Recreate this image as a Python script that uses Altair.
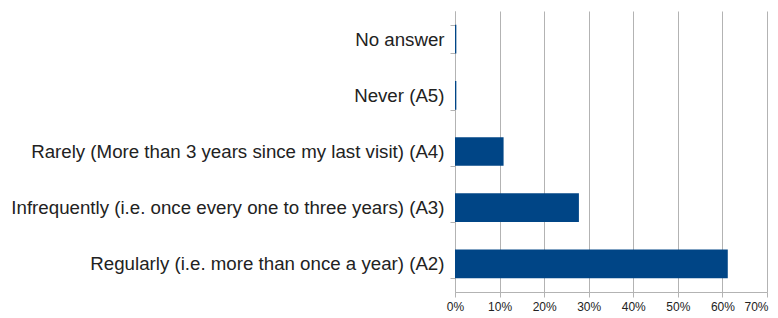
import altair as alt
import pandas as pd

categories = [
    "No answer",
    "Never (A5)",
    "Rarely (More than 3 years since my last visit) (A4)",
    "Infrequently (i.e. once every one to three years) (A3)",
    "Regularly (i.e. more than once a year) (A2)",
]
values = [0.003, 0.003, 0.109, 0.278, 0.612]
ticks = [0, 0.1, 0.2, 0.3, 0.4, 0.5, 0.6, 0.7]

df = pd.DataFrame({"category": categories, "value": values})

chart = (
    alt.Chart(df)
    .mark_bar(color="#004586")
    .encode(
        x=alt.X(
            "value:Q",
            scale=alt.Scale(domain=[0, 0.7], nice=False),
            axis=alt.Axis(
                format=".0%",
                values=ticks,
                title=None,
                grid=True,
                gridColor="#b3b3b3",
                domainColor="#b3b3b3",
                tickColor="#b3b3b3",
                tickSize=5,
                labelFlush=False,
                labelOffset=alt.condition("datum.value >= 0.69", alt.value(-11), alt.value(0)),
                labelFont="Liberation Sans",
                labelFontSize=12,
                labelColor="#222222",
                labelPadding=4,
            ),
        ),
        y=alt.Y(
            "category:N",
            sort=categories,
            scale=alt.Scale(paddingInner=0.49, paddingOuter=0.245),
            axis=alt.Axis(
                title=None,
                tickBand="extent",
                domainColor="#b3b3b3",
                tickColor="#b3b3b3",
                tickSize=5,
                labelFont="Liberation Sans",
                labelFontSize=18.7,
                labelColor="#222222",
                labelPadding=6,
                labelLimit=500,
            ),
        ),
    )
    .properties(
        width=312,
        height=281,
        autosize=alt.AutoSizeParams(type="none"),
        padding={"left": 447, "top": 3, "right": 2, "bottom": 20},
    )
    .configure_view(stroke="#b3b3b3", strokeWidth=0)
)

chart.save("out.html", embed_options={"renderer": "svg", "actions": False})
